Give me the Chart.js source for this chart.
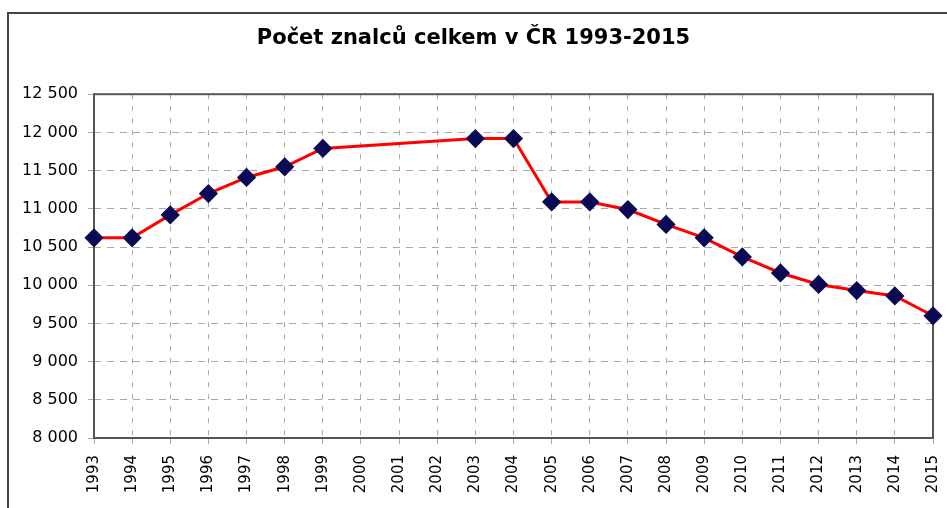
<!DOCTYPE html>
<html>
<head>
<meta charset="utf-8">
<script src="https://cdn.jsdelivr.net/npm/chart.js@4"></script>
<style>
  html, body { margin: 0; padding: 0; background: #fff; }
  #wrap { position: relative; width: 947px; height: 508px; overflow: hidden; }
  #frame { position: absolute; left: 7px; top: 12px; width: 960px; height: 520px;
           border-left: 2px solid #444; border-top: 2px solid #444; }
  canvas { position: absolute; left: 0; top: 0; }
</style>
</head>
<body>
<div id="wrap">
  <div id="frame"></div>
  <canvas id="lineChart" width="947" height="508"></canvas>
</div>
<script>
// Years on the x axis
var years = ['1993', '1994', '1995', '1996', '1997', '1998', '1999', '2000', '2001', '2002', '2003',
  '2004', '2005', '2006', '2007', '2008', '2009', '2010', '2011', '2012', '2013', '2014', '2015'];

// Number of experts (no values for 2000-2002)
var experts = [10620, 10620, 10920, 11200, 11410, 11550, 11790, null, null, null, 11920,
  11920, 11090, 11090, 10990, 10795, 10620, 10370, 10160, 10010, 9930, 9860, 9600];

// Y axis range
var yMin = 8000;
var yMax = 12500;
var yStep = 500;

// Dark frame around the plot area
var plotFrame = {
  id: 'plotFrame',
  beforeDatasetsDraw: function (chart) {
    var a = chart.chartArea;
    var ctx = chart.ctx;
    ctx.save();
    ctx.strokeStyle = '#555';
    ctx.lineWidth = 2;
    ctx.strokeRect(a.left, a.top, a.right - a.left, a.bottom - a.top);
    ctx.restore();
  }
};

var config = {
  type: 'line',
  data: {
    labels: years,
    datasets: [{
      label: 'Počet znalců',
      data: experts,
      borderColor: '#ff0000',
      borderWidth: 3,
      pointStyle: 'rectRot',
      pointRadius: 7.5,
      pointBackgroundColor: '#0a0a55',
      pointBorderColor: '#0a0a55',
      tension: 0,
      spanGaps: true
    }]
  },
  options: {
    responsive: false,
    animation: false,
    layout: { padding: { left: 14, right: 14, top: 0, bottom: 0 } },
    plugins: {
      legend: { display: false },
      tooltip: { enabled: false },
      title: {
        display: true,
        text: 'Počet znalců celkem v ČR 1993-2015',
        color: '#000',
        font: { family: 'DejaVu Sans, sans-serif', size: 21, weight: 'bold' },
        padding: { top: 26, bottom: 43 }
      }
    },
    scales: {
      x: {
        offset: false,
        grid: {
          color: '#a8a8a8',
          lineWidth: 1,
          tickLength: 6,
          drawOnChartArea: true
        },
        border: { display: false, dash: [5, 7] },
        ticks: {
          color: '#000',
          font: { family: 'DejaVu Sans, sans-serif', size: 15 },
          maxRotation: 90,
          minRotation: 90,
          autoSkip: false,
          padding: 11
        },
        afterFit: function (scale) {
          scale.height = 70;
          scale.paddingLeft = 0;
          scale.paddingRight = 0;
        }
      },
      y: {
        min: yMin,
        max: yMax,
        grid: {
          color: '#a8a8a8',
          lineWidth: 1,
          tickLength: 6
        },
        border: { display: false, dash: [7, 6] },
        ticks: {
          stepSize: yStep,
          color: '#000',
          padding: 10,
          font: { family: 'DejaVu Sans, sans-serif', size: 16 },
          callback: function (v) {
            return String(v).replace(/\B(?=(\d{3})+(?!\d))/g, ' ');
          }
        },
        afterFit: function (scale) {
          scale.width = 80;
          scale.paddingTop = 0;
          scale.paddingBottom = 0;
        }
      }
    }
  },
  plugins: [plotFrame]
};

// Create the chart
var myChart = new Chart(document.getElementById('lineChart'), config);
</script>
</body>
</html>
